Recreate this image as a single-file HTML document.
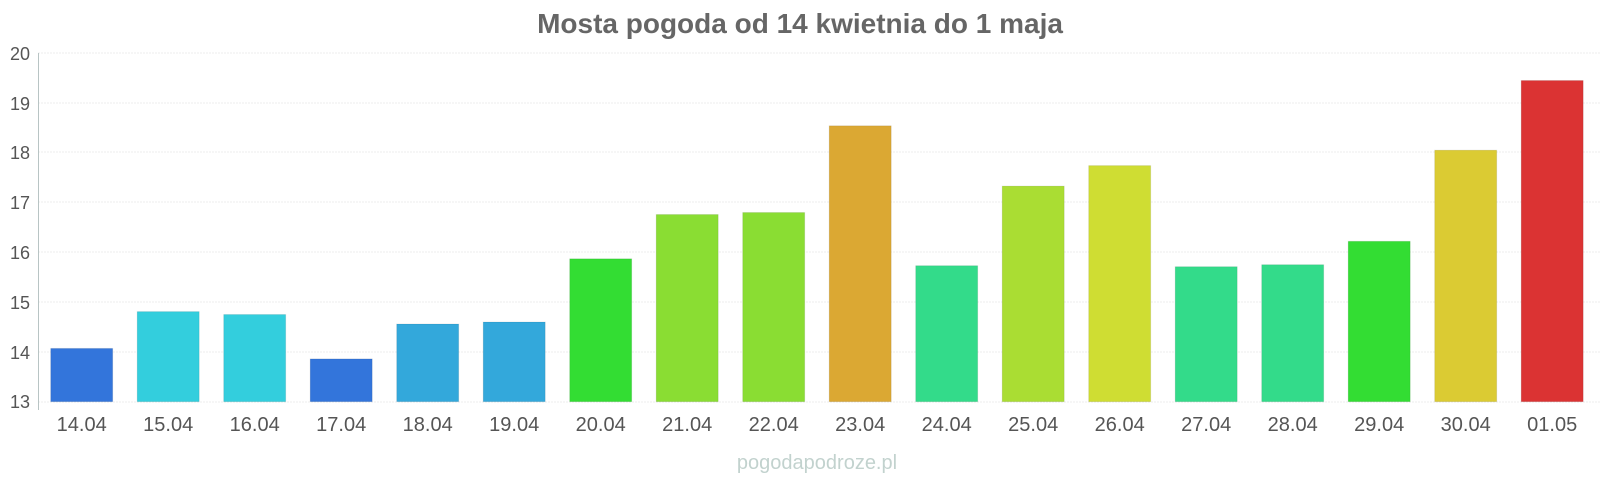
<!DOCTYPE html>
<html><head><meta charset="utf-8"><style>
html,body{margin:0;padding:0;background:#fff;}
svg{display:block;font-family:"Liberation Sans",Arial,sans-serif;}
</style></head><body>
<svg width="1600" height="480" viewBox="0 0 1600 480" xmlns="http://www.w3.org/2000/svg">
<text x="800" y="33" text-anchor="middle" font-size="28" font-weight="bold" fill="#666">Mosta pogoda od 14 kwietnia do 1 maja</text>
<g stroke="#eeeeee" stroke-width="1" stroke-dasharray="2,1">
<line x1="38" x2="1600" y1="53" y2="53"/>
<line x1="38" x2="1600" y1="103" y2="103"/>
<line x1="38" x2="1600" y1="152" y2="152"/>
<line x1="38" x2="1600" y1="202" y2="202"/>
<line x1="38" x2="1600" y1="252" y2="252"/>
<line x1="38" x2="1600" y1="302" y2="302"/>
<line x1="38" x2="1600" y1="352" y2="352"/>
<line x1="38" x2="1600" y1="402" y2="402"/>
</g>
<line x1="38.5" x2="38.5" y1="53" y2="410" stroke="#b8c4c4" stroke-width="1"/>
<g font-size="18" fill="#555" text-anchor="end">
<text x="30" y="60">20</text><text x="30" y="110">19</text><text x="30" y="159">18</text>
<text x="30" y="209">17</text><text x="30" y="259">16</text><text x="30" y="309">15</text>
<text x="30" y="359">14</text><text x="30" y="408">13</text>
</g>
<g stroke="rgba(0,0,0,0.08)" stroke-width="1">
<rect x="50.7" y="348.4" width="62" height="53.3" fill="#3375db"/>
<rect x="137.2" y="311.6" width="62" height="90.1" fill="#33cedd"/>
<rect x="223.7" y="314.5" width="62" height="87.2" fill="#33cedd"/>
<rect x="310.2" y="358.9" width="62" height="42.8" fill="#3375db"/>
<rect x="396.7" y="324.0" width="62" height="77.7" fill="#33a8db"/>
<rect x="483.2" y="322.0" width="62" height="79.7" fill="#33a8db"/>
<rect x="569.7" y="258.8" width="62" height="142.9" fill="#33dd33"/>
<rect x="656.2" y="214.5" width="62" height="187.2" fill="#8add33"/>
<rect x="742.7" y="212.5" width="62" height="189.2" fill="#8add33"/>
<rect x="829.2" y="125.8" width="62" height="275.9" fill="#dba833"/>
<rect x="915.7" y="265.7" width="62" height="136.0" fill="#33db8a"/>
<rect x="1002.2" y="186.1" width="62" height="215.6" fill="#aadd33"/>
<rect x="1088.7" y="165.6" width="62" height="236.1" fill="#cfdd33"/>
<rect x="1175.2" y="266.7" width="62" height="135.0" fill="#33db8a"/>
<rect x="1261.7" y="264.7" width="62" height="137.0" fill="#33db8a"/>
<rect x="1348.2" y="241.3" width="62" height="160.4" fill="#33dd33"/>
<rect x="1434.7" y="150.2" width="62" height="251.5" fill="#dbcb33"/>
<rect x="1521.2" y="80.5" width="62" height="321.2" fill="#db3333"/>
</g>
<g font-size="20" fill="#555" text-anchor="middle">
<text x="81.7" y="431">14.04</text>
<text x="168.2" y="431">15.04</text>
<text x="254.7" y="431">16.04</text>
<text x="341.2" y="431">17.04</text>
<text x="427.7" y="431">18.04</text>
<text x="514.2" y="431">19.04</text>
<text x="600.7" y="431">20.04</text>
<text x="687.2" y="431">21.04</text>
<text x="773.7" y="431">22.04</text>
<text x="860.2" y="431">23.04</text>
<text x="946.7" y="431">24.04</text>
<text x="1033.2" y="431">25.04</text>
<text x="1119.7" y="431">26.04</text>
<text x="1206.2" y="431">27.04</text>
<text x="1292.7" y="431">28.04</text>
<text x="1379.2" y="431">29.04</text>
<text x="1465.7" y="431">30.04</text>
<text x="1552.2" y="431">01.05</text>
</g>
<text x="817" y="469" text-anchor="middle" font-size="20" fill="#c2d2ce">pogodapodroze.pl</text>
</svg>
</body></html>
